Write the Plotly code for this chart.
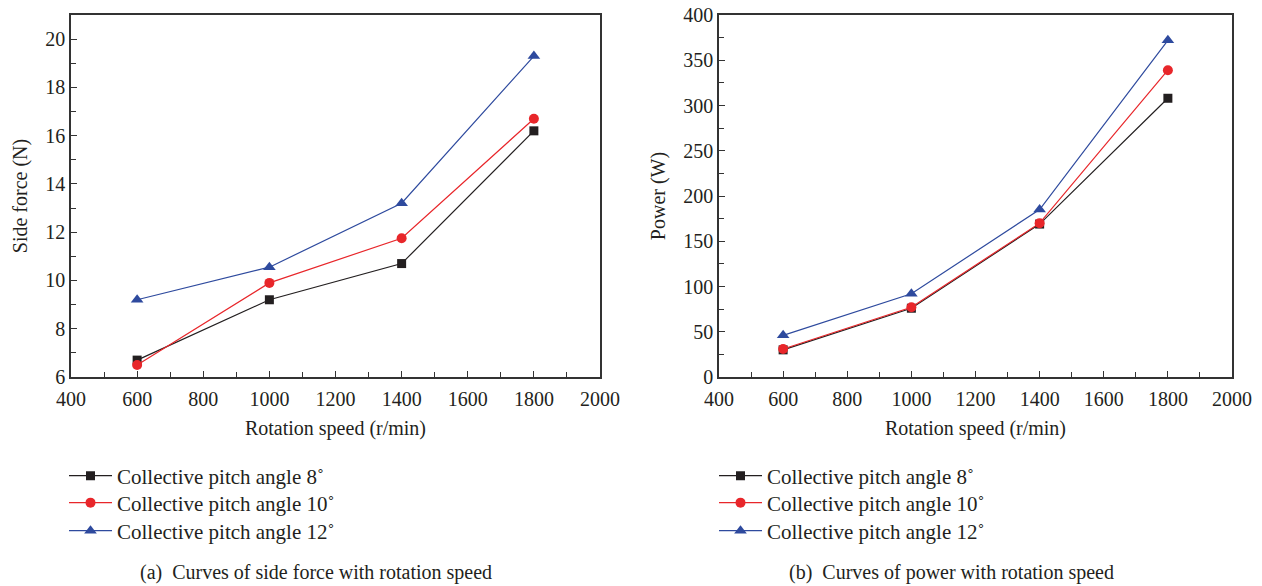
import plotly.graph_objects as go

speed = [600, 1000, 1400, 1800]
side_8 = [6.7, 9.2, 10.7, 16.2]
side_10 = [6.5, 9.9, 11.75, 16.7]
side_12 = [9.2, 10.55, 13.2, 19.3]
power_8 = [30, 76, 169, 308]
power_10 = [31, 77, 170, 339]
power_12 = [46, 92, 185, 372]
names = ["Collective pitch angle 8˚", "Collective pitch angle 10˚", "Collective pitch angle 12˚"]

colors = ["#231f20", "#e8262a", "#2e4a9e"]
symbols = ["square", "circle", "triangle-up"]
msize = [9, 10, 11]
FONT = "Liberation Serif"
W, H = 1262, 586
row_y = [476, 503, 531]

fig = go.Figure()
for i, ys in enumerate([side_8, side_10, side_12]):
    fig.add_trace(go.Scatter(x=speed, y=ys, mode="lines+markers", name=names[i],
                             line=dict(color=colors[i], width=1.2),
                             marker=dict(symbol=symbols[i], size=msize[i], color=colors[i]),
                             xaxis="x", yaxis="y", showlegend=True,
                             legend="legend" if i == 0 else f"legend{i + 1}"))
for i, ys in enumerate([power_8, power_10, power_12]):
    fig.add_trace(go.Scatter(x=speed, y=ys, mode="lines+markers", name=names[i],
                             line=dict(color=colors[i], width=1.2),
                             marker=dict(symbol=symbols[i], size=msize[i], color=colors[i]),
                             xaxis="x2", yaxis="y2", showlegend=True, legend=f"legend{i + 4}"))

axcommon = dict(showline=True, linecolor="#333", linewidth=1.5, mirror=True,
                ticks="inside", ticklen=6, tickcolor="#333", tickwidth=1.2,
                showgrid=False, zeroline=False, automargin=False,
                tickfont=dict(family=FONT, size=20, color="#231f20"),
                title_font=dict(family=FONT, size=20, color="#231f20"))

ydom = [1 - 377 / H, 1 - 15 / H]
layout = dict(
    template="none",
    width=W, height=H, margin=dict(l=0, r=0, t=0, b=0, autoexpand=False),
    plot_bgcolor="white", paper_bgcolor="white", showlegend=True,
    font=dict(family=FONT, color="#231f20"),
    xaxis=dict(domain=[71 / W, 600 / W], range=[400, 2000], dtick=200, ticklabelstandoff=3,
               minor=dict(ticks="inside", ticklen=5, dtick=100, tickcolor="#333"),
               title=dict(text="Rotation speed (r/min)", standoff=12), anchor="y", **axcommon),
    yaxis=dict(domain=ydom, range=[6, 21], tickvals=[6, 8, 10, 12, 14, 16, 18, 20],
               minor=dict(ticks="inside", ticklen=5, tickvals=[7, 9, 11, 13, 15, 17, 19], tickcolor="#333"),
               title=dict(text="Side force (N)", standoff=12), anchor="x", **axcommon),
    xaxis2=dict(domain=[719 / W, 1232 / W], range=[400, 2000], dtick=200, ticklabelstandoff=3,
                minor=dict(ticks="inside", ticklen=5, dtick=100, tickcolor="#333"),
                title=dict(text="Rotation speed (r/min)", standoff=12), anchor="y2", **axcommon),
    yaxis2=dict(domain=ydom, range=[0, 400], dtick=50,
                minor=dict(ticks="inside", ticklen=5, dtick=25, tickcolor="#333"),
                title=dict(text="Power (W)", standoff=12), anchor="x2", **axcommon),
    annotations=[
        dict(text="(a)  Curves of side force with rotation speed", x=316 / W, y=1 - 572 / H,
             xref="paper", yref="paper", showarrow=False, xanchor="center", yanchor="middle",
             font=dict(family=FONT, size=20, color="#231f20")),
        dict(text="(b)  Curves of power with rotation speed", x=951 / W, y=1 - 572 / H,
             xref="paper", yref="paper", showarrow=False, xanchor="center", yanchor="middle",
             font=dict(family=FONT, size=20, color="#231f20")),
    ],
)
for k in range(6):
    key = "legend" if k == 0 else f"legend{k + 1}"
    lx = 64 if k < 3 else 714
    layout[key] = dict(x=lx / W, y=1 - row_y[k % 3] / H, xanchor="left", yanchor="middle",
                       font=dict(family=FONT, size=21, color="#231f20"), visible=True,
                       itemwidth=43, bgcolor="rgba(0,0,0,0)", borderwidth=0)
fig.update_layout(**layout)

fig.write_html("out.html")
